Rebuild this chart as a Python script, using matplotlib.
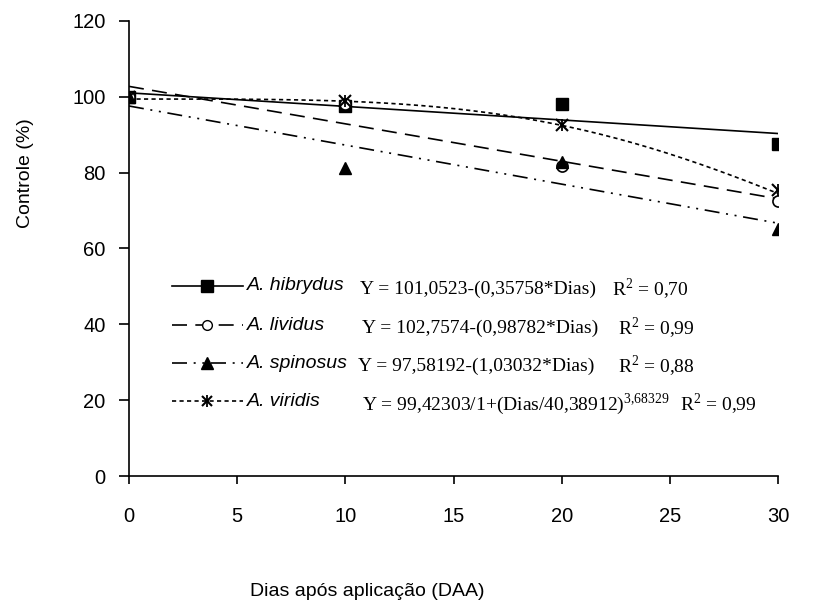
import numpy as np
import matplotlib
matplotlib.use("Agg")
import matplotlib.pyplot as plt
from matplotlib.lines import Line2D

plt.rcParams['font.family'] = ['Liberation Sans', 'DejaVu Sans']
plt.rcParams['mathtext.fontset'] = 'custom'
plt.rcParams['mathtext.rm'] = 'Liberation Serif'

# observed data
days = [0, 10, 20, 30]
hibrydus = [100.0, 97.5, 98.2, 87.6]
lividus = [100.0, 98.0, 81.8, 72.6]
spinosus = [100.0, 81.2, 82.8, 65.2]
viridis = [100.0, 99.0, 92.6, 75.3]

# fitted models (coefficients shown in the chart)
hib_coef = [101.0523, 0.35758]
liv_coef = [102.7574, 0.98782]
spi_coef = [97.58192, 1.03032]
vir_coef = [99.42303, 40.38912, 3.68329]

labels = ['A. hibrydus', 'A. lividus', 'A. spinosus', 'A. viridis']
equations = ['Y = 101,0523-(0,35758*Dias)',
             'Y = 102,7574-(0,98782*Dias)',
             'Y = 97,58192-(1,03032*Dias)',
             'Y = 99,42303/1+(Dias/40,38912)$^{3{,}68329}$']
r2 = ['R$^2$ = 0,70', 'R$^2$ = 0,99', 'R$^2$ = 0,88', 'R$^2$ = 0,99']

fig = plt.figure(figsize=(8.17, 6.10), dpi=100)
ax = fig.add_axes([129/817, 1-476/610, (778-129)/817, (476-21)/610])

xs = np.linspace(0, 30, 200)
fits = [hib_coef[0] - hib_coef[1]*xs,
        liv_coef[0] - liv_coef[1]*xs,
        spi_coef[0] - spi_coef[1]*xs,
        vir_coef[0] / (1 + (xs/vir_coef[1])**vir_coef[2])]

styles = ['-', (0, (9, 5)), (0, (9, 4, 1.2, 4, 1.2, 4)), (0, (2.5, 2))]
lw = 1.2
for fit, ls in zip(fits, styles):
    ax.plot(xs, fit, color='black', lw=lw, ls=ls)

ax.plot(days, hibrydus, 's', ms=9, color='black', ls='none')
ax.plot(days, lividus, 'o', ms=8, mfc='white', mec='black', mew=1.2, ls='none')
ax.plot(days, spinosus, '^', ms=9, color='black', ls='none')
ax.plot(days, viridis, 'x', ms=8, mew=1.5, color='black', ls='none')
ax.plot(days, viridis, '|', ms=9, mew=1.3, color='black', ls='none')

ax.set_xlim(0, 30)
ax.set_ylim(0, 120)
ax.set_xticks(range(0, 31, 5))
ax.set_yticks(range(0, 121, 20))
ax.spines['top'].set_visible(False)
ax.spines['right'].set_visible(False)
for s in ['left', 'bottom']:
    ax.spines[s].set_linewidth(1.2)
ax.tick_params(axis='x', direction='out', length=6, width=1.2, pad=16, labelsize=14.5)
ax.tick_params(axis='y', direction='out', length=7, width=1.2, pad=10, labelsize=14.5)

fig.text(25/817, 1-173/610, 'Controle (%)', rotation=90, ha='center', va='center', fontsize=14)
fig.text(367/817, 1-592/610, 'Dias após aplicação (DAA)', ha='center', va='center', fontsize=14)

# legend built by hand
markers = [dict(marker='s', ms=8, mfc='black', mec='black'),
           dict(marker='o', ms=7, mfc='white', mec='black'),
           dict(marker='^', ms=8, mfc='black', mec='black'),
           dict(marker='x', ms=7, mfc='black', mec='black', mew=1.5)]
rows_y = [286, 325, 363, 401]
eq_x = [360, 362, 358, 362]
r2_x = [612, 618, 618, 680]
for i in range(4):
    y = 1 - rows_y[i]/610
    fig.add_artist(Line2D([172/817, 243/817], [y, y], color='black', lw=lw, ls=styles[i]))
    fig.add_artist(Line2D([207/817], [y], color='black', ls='none', **markers[i]))
    if i == 3:
        fig.add_artist(Line2D([207/817], [y], color='black', ls='none', marker='|', ms=8, mew=1.3))
    fig.text(247/817, y, labels[i], style='italic', ha='left', va='center', fontsize=14)
    fig.text(eq_x[i]/817, y - 3/610, equations[i], family='Liberation Serif',
             ha='left', va='center', fontsize=14)
    fig.text(r2_x[i]/817, y - 3/610, r2[i], family='Liberation Serif',
             ha='left', va='center', fontsize=14)

fig.savefig('out.png', dpi=100)
